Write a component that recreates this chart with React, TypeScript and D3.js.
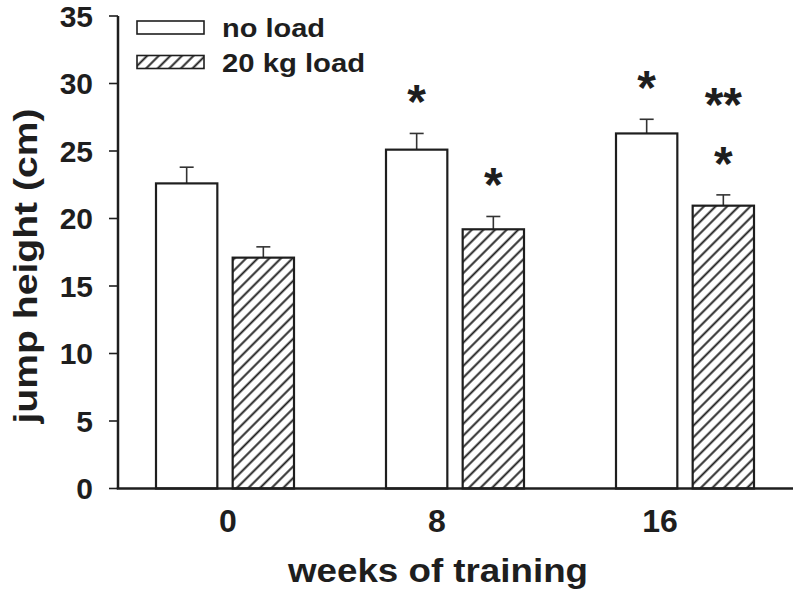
import React from "react";
import * as d3 from "d3";

const categories = ["0", "8", "16"];
const seriesNames = ["no load", "20 kg load"];
const noLoadValues = [22.6, 25.1, 26.3];
const noLoadErrors = [1.2, 1.2, 1.05];
const loadValues = [17.1, 19.2, 20.95];
const loadErrors = [0.8, 0.95, 0.8];
const yTicks = [0, 5, 10, 15, 20, 25, 30, 35];
// significance marks: category, series index, list of marks from lowest to highest
const sigCats = ["8", "8", "16", "16"];
const sigSeries = [0, 1, 0, 1];
const sigMarks = [["*"], ["*"], ["*"], ["*", "**"]];

const W = 794;
const H = 601;
const FONT = "'Liberation Sans', Arial, Helvetica, sans-serif";
const INK = "#1e1e1e";
// label shifts relative to group centre (layout only)
const xLabelShift = [3, -18, -25];
const HATCH = 8.2;

export default function App() {
  const y = d3.scaleLinear().domain([0, 35]).range([488.5, 16]);
  const x0 = d3
    .scaleBand<string>()
    .domain(categories)
    .range([110, 800])
    .paddingInner(0.4)
    .paddingOuter(0.2);
  const x1 = d3
    .scaleBand<string>()
    .domain(seriesNames)
    .range([0, x0.bandwidth()])
    .paddingInner(0.2);

  const values = [noLoadValues, loadValues];
  const errors = [noLoadErrors, loadErrors];
  const axisX = 118;

  return (
    <svg
      width={W}
      height={H}
      style={{ position: "absolute", left: 0, top: 0, background: "#fff" }}
      fontFamily={FONT}
      fontWeight="bold"
    >
      <defs>
        <pattern
          id="hatch"
          patternUnits="userSpaceOnUse"
          width={HATCH}
          height={HATCH}
          patternTransform="rotate(45)"
        >
          <rect width={HATCH} height={HATCH} fill="#fff" />
          <line
            x1={HATCH / 2}
            y1={-1}
            x2={HATCH / 2}
            y2={HATCH + 1}
            stroke={INK}
            strokeWidth={1.9}
          />
        </pattern>
      </defs>
      <rect width={W} height={H} fill="#fff" />

      {/* bars */}
      {categories.map((c, ci) =>
        seriesNames.map((s, si) => {
          const bx = (x0(c) as number) + (x1(s) as number);
          const bw = x1.bandwidth();
          const v = values[si][ci];
          const e = errors[si][ci];
          const cx = bx + bw / 2;
          return (
            <g key={c + s}>
              <line
                x1={cx}
                x2={cx}
                y1={y(v)}
                y2={y(v + e)}
                stroke="#333"
                strokeWidth={1.6}
              />
              <line
                x1={cx - 7}
                x2={cx + 7}
                y1={y(v + e)}
                y2={y(v + e)}
                stroke="#333"
                strokeWidth={1.6}
              />
              <rect
                x={bx}
                y={y(v)}
                width={bw}
                height={y(0) - y(v)}
                fill={si === 0 ? "#fff" : "url(#hatch)"}
                stroke={INK}
                strokeWidth={2.2}
              />
            </g>
          );
        })
      )}

      {/* significance marks */}
      {sigCats.map((c, i) => {
        const si = sigSeries[i];
        const ci = categories.indexOf(c);
        const cx = (x0(c) as number) + (x1(seriesNames[si]) as number) + x1.bandwidth() / 2;
        const top = y(values[si][ci] + errors[si][ci]);
        return sigMarks[i].map((m, k) => (
          <text
            key={c + si + k}
            x={cx}
            y={top - 40 - k * 59 + 25}
            textAnchor="middle"
            fontSize={48}
            fill={INK}
          >
            {m}
          </text>
        ));
      })}

      {/* axes */}
      <line x1={axisX} x2={axisX} y1={y(35)} y2={y(0)} stroke={INK} strokeWidth={2.5} />
      <line x1={axisX - 1.25} x2={793} y1={y(0)} y2={y(0)} stroke={INK} strokeWidth={2.5} />
      {yTicks.map((t) => (
        <g key={t}>
          <line x1={axisX - 9} x2={axisX} y1={y(t)} y2={y(t)} stroke={INK} strokeWidth={1.6} />
          <text
            x={93}
            y={y(t)}
            dy="0.36em"
            textAnchor="end"
            fontSize={30}
            fill={INK}
          >
            {t}
          </text>
        </g>
      ))}
      {categories.map((c, i) => (
        <text
          key={c}
          x={(x0(c) as number) + x0.bandwidth() / 2 + xLabelShift[i]}
          y={532}
          textAnchor="middle"
          fontSize={32}
          fill={INK}
        >
          {c}
        </text>
      ))}

      {/* axis titles */}
      <text
        x={438}
        y={582}
        textAnchor="middle"
        fontSize={34}
        fill={INK}
        textLength={300}
        lengthAdjust="spacingAndGlyphs"
      >
        weeks of training
      </text>
      <text
        transform="translate(37,266) rotate(-90)"
        textAnchor="middle"
        fontSize={33}
        fill={INK}
        textLength={315}
        lengthAdjust="spacingAndGlyphs"
      >
        jump height (cm)
      </text>

      {/* legend */}
      {seriesNames.map((s, i) => (
        <g key={s}>
          <rect
            x={137}
            y={21 + i * 34.5}
            width={67}
            height={13}
            fill={i === 0 ? "#fff" : "url(#hatch)"}
            stroke={INK}
            strokeWidth={1.6}
          />
          <text
            x={222}
            y={37 + i * 35}
            fontSize={26}
            fill={INK}
            textLength={i === 0 ? 103 : 143}
            lengthAdjust="spacingAndGlyphs"
          >
            {s}
          </text>
        </g>
      ))}
    </svg>
  );
}
